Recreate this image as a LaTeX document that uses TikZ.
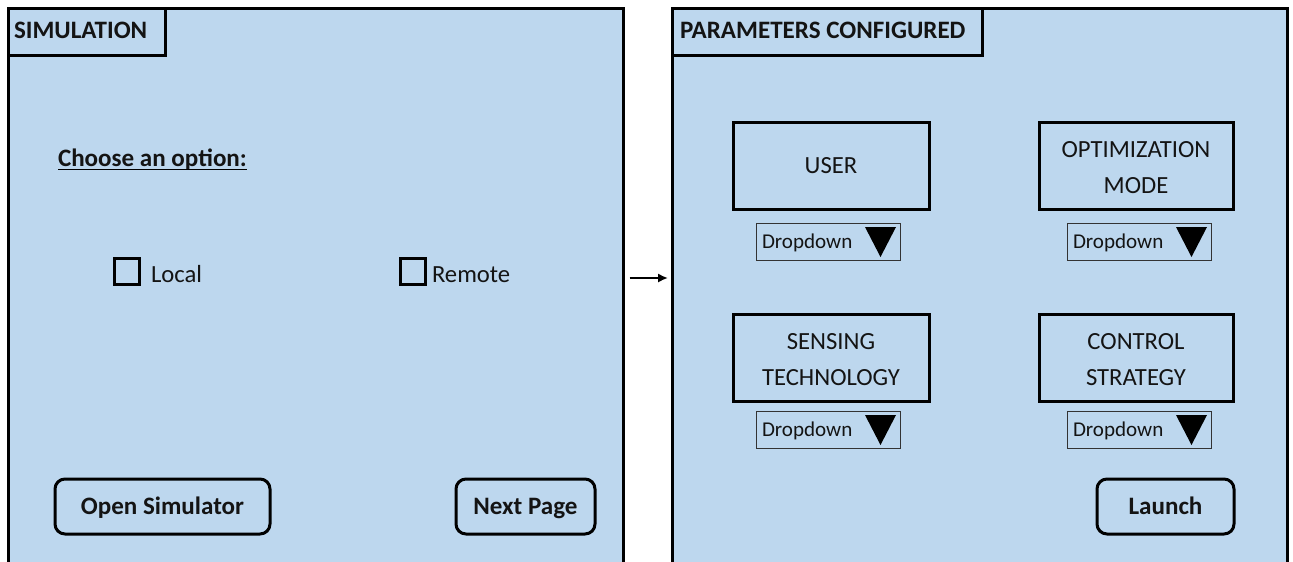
\documentclass[tikz,border=0pt]{standalone}
\usepackage{fontspec}
\setmainfont{Carlito}
\usetikzlibrary{arrows.meta}
\definecolor{panelblue}{HTML}{BDD7EE}
\definecolor{inktext}{HTML}{141414}

\begin{document}
\begin{tikzpicture}[x=0.75pt,y=-0.75pt,
  every node/.style={inner sep=0pt, outer sep=0pt, text=inktext},
  panel/.style={draw=black, line width=2.25pt, fill=panelblue, anchor=north west},
  tabbox/.style={draw=black, line width=2.25pt, anchor=north west},
  title/.style={anchor=base west, font=\bfseries\fontsize{18.8}{22}\selectfont},
  plain/.style={anchor=base west, font=\fontsize{18.5}{22}\selectfont},
  checkbox/.style={draw=black, line width=2.25pt, minimum width=18.75pt, minimum height=19.5pt},
  button/.style={draw=black, line width=2.25pt, rounded corners=7.5pt, minimum height=41.25pt,
    font=\bfseries\fontsize{18.8}{22}\selectfont, text height=12pt, text depth=0pt},
  fieldbox/.style={draw=black, line width=2.25pt, anchor=north west, align=center,
    minimum width=147pt, minimum height=65.25pt, font=\fontsize{18.5}{27.5}\selectfont,
    text depth=0pt},
  oneline/.style={text height=11.9pt},
  twoline/.style={text height=42.4pt},
  dropdown/.style={draw=black!80, line width=0.75pt, anchor=north west, align=left,
    inner xsep=4.5pt, text width=99pt, minimum height=27.75pt,
    font=\fontsize{15.8}{18}\selectfont, text height=10.2pt, text depth=0pt},
  ddarrow/.style={fill=black},
  conn/.style={draw=black, line width=1.8pt, -{Latex[length=7.5pt,width=7pt]}}
]
\useasboundingbox (0,0) rectangle (1293,561);
\clip (0,0) rectangle (1293,561);

% ---------- Simulation page ----------
\node[panel, minimum width=460.9pt, minimum height=480pt] (simpanel) at (8.5,8.5) {};
\node[tabbox, minimum width=117.4pt, minimum height=34.9pt] (simtab) at (8.5,8.5) {};
\node[title] (simtitle) at (14,38) {SIMULATION};

\node[title] (choose) at (58,166) {Choose an option:};
\draw[line width=1.3pt] ([shift={(0,3.5)}]choose.base west) -- ([shift={(0,3.5)}]choose.base east);

\node[checkbox] (boxlocal) at (126.5,271) {};
\node[plain] (local) at (151,282) {Local};
\node[checkbox] (boxremote) at (412.5,271) {};
\node[plain] (remote) at (432,282) {Remote};

\node[button, minimum width=161.25pt] (opensim) at (162.5,506.5) {Open Simulator};
\node[button, minimum width=104.25pt] (nextpage) at (525.5,506.5) {Next Page};

% ---------- Parameters page ----------
\node[panel, minimum width=461.25pt, minimum height=480pt] (parpanel) at (672,8.5) {};
\node[tabbox, minimum width=232.5pt, minimum height=34.9pt] (partab) at (672,8.5) {};
\node[title] (partitle) at (680,38) {PARAMETERS CONFIGURED};

\node[fieldbox, oneline] (user) at (733,122) {USER};
\node[fieldbox, twoline, minimum width=145.5pt] (optmode) at (1039,122) {OPTIMIZATION\\MODE};
\node[fieldbox, twoline] (sensing) at (733,314) {SENSING\\TECHNOLOGY};
\node[fieldbox, twoline, minimum width=145.5pt] (control) at (1039,314) {CONTROL\\STRATEGY};

\node[dropdown] (dduser) at (756,223) {Dropdown};
\node[dropdown] (ddopt) at (1067,223) {Dropdown};
\node[dropdown] (ddsens) at (756,411) {Dropdown};
\node[dropdown] (ddctrl) at (1067,411) {Dropdown};
\foreach \dd in {dduser,ddopt,ddsens,ddctrl}
  \fill[ddarrow] ([shift={(-35,4)}]\dd.north east) -- ++(31,0) -- ++(-15.5,30) -- cycle;

\node[button, minimum width=102.75pt] (launch) at (1165.5,506.5) {Launch};

% ---------- page transition ----------
\coordinate (arrowrow) at (0,278);
\draw[conn, shorten <=5pt, shorten >=3pt] (simpanel.east |- arrowrow) -- (parpanel.west |- arrowrow);
\end{tikzpicture}
\end{document}
